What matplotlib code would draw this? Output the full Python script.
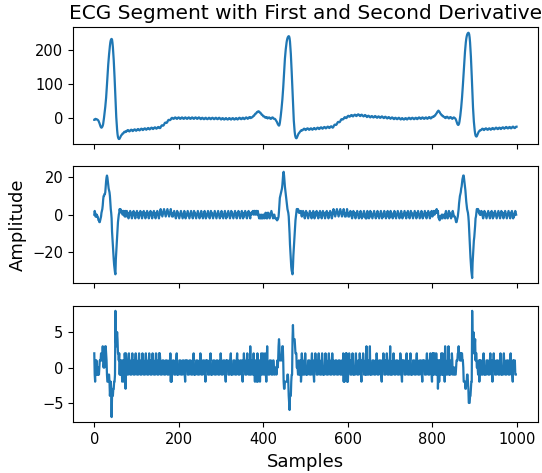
import numpy as np
import matplotlib
matplotlib.use("Agg")
import matplotlib.pyplot as plt

# ECG samples (ADC units)
beat1 = [-5, -5, -3, -2, -3, -3, -4, -4, -5, -6, -8, -11, -14, -18, -22, -25, -27, -28, -27,
         -25, -22, -17, -9, 1, 11, 22, 33, 45, 60, 78, 98, 119, 139, 157, 173, 187, 200, 212,
         222, 228, 231, 232,
         230, 221, 208, 191, 170, 146, 119, 90, 59, 27, 3, -17, -34, -47, -55, -59, -61, -61,
         -60, -57, -55, -52, -50, -49, -47, -45, -45, -44, -42, -40, -40, -41, -40, -38]

base1 = [-39, -38, -36, -35, -35, -36, -38, -39, -38, -37, -35, -34, -34, -35, -37, -38,
         -37, -36, -34, -33, -33, -34, -36, -37, -36, -35, -33, -32, -32, -33, -35, -36,
         -35, -34, -32, -31, -31, -32, -34, -35, -34, -33, -31, -30, -30, -31, -33, -34,
         -33, -32, -30, -29, -29, -30, -32, -33, -32, -31, -29, -28, -28, -29, -31, -32,
         -31, -30, -28, -27, -27, -28, -30, -31, -30, -29, -27, -26, -26, -27, -29, -29,
         -29, -27, -24, -22, -21, -21, -22, -22, -21, -19, -16, -14, -13, -13, -14, -14,
         -13, -11, -8, -6, -5, -5, -6, -6, -5, -4, -1, 0, 1, 0, -1, -2]

base2 = [-2, -1, 1, 2, 2, 1, -1, -2, -2, 0, 1, 2, 2, 1, -1, -2,
         -2, -1, 1, 2, 2, 1, -1, -2, -2, -1, 1, 2, 2, 0, -1, -2,
         -2, -1, 1, 2, 2, 1, -1, -2, -2, -1, 1, 2, 2, 1, -1, -2,
         -2, 0, 1, 2, 2, 1, -1, -2, -2, -1, 1, 2, 2, 1, -1, -2,
         -3, -2, 0, 1, 1, 0, -2, -3, -3, -2, 0, 1, 1, -1, -2, -3,
         -3, -2, 0, 1, 1, 0, -2, -3, -3, -1, 0, 1, 1, 0, -2, -3,
         -3, -2, 0, 1, 1, 0, -2, -3, -3, -2, 0, 1, 1, 0, -2, -3,
         -4, -3, -1, 0, 0, -1, -3, -4, -4, -3, -1, 0, 0, -2, -3, -4,
         -4, -3, -1, 0, 0, -1, -3, -4, -4, -2, -1, 0, 0, -1, -3, -4,
         -4, -3, -1, 0, 0, -1, -3, -4, -3, -2, 0, 1, 1, 0, -2, -3,
         -3, -2, 0, 1, 1, -1, -2, -3, -2, -1, 1, 2, 2, 1, -1, -2,
         -1, 0, 2, 3, 3, 2]

pwave1 = [0, 1, 2, 2, 3, 4, 6, 7, 7, 9, 11, 13, 13, 14, 16, 18, 18, 18, 20, 20, 19,
          17, 16, 16, 14, 12, 10, 10, 9, 7, 5, 5, 5, 4, 2, 1, 2, 3, 3, 1, -1]

pre2 = [0, 1, 2, 2, 1, -1, -2, -2, -1, 1, 2, 2, 1, -1, -2, -2, -2,
        -3, -5, -7, -9, -11, -14, -17, -19, -21]

beat2 = [-22, -20, -14, -5, 5, 16, 28, 41, 55, 71, 90, 112, 135, 156, 174, 189, 202,
         213, 222, 229, 234, 237, 239, 240,
         239, 234, 224, 208, 188, 164, 136, 106, 75, 43, 15, -7, -25, -39, -49, -55, -58, -59,
         -58, -55, -52, -49, -46, -44, -43, -41, -39, -38, -37, -35, -35, -36]

base3 = [-35, -34, -32, -31, -31, -32, -34, -35, -34, -32, -31, -30, -30, -31, -33, -34,
         -34, -33, -31, -30, -30, -31, -33, -34, -33, -32, -30, -29, -29, -31, -32, -33,
         -32, -31, -29, -28, -28, -29, -31, -32, -31, -30, -28, -27, -27, -28, -30, -31,
         -30, -28, -27, -26, -26, -27, -29, -30, -29, -28, -26, -25, -25, -26, -28, -29,
         -28, -27, -25, -24, -24, -25, -27, -28, -27, -25, -22, -20, -19, -19, -20, -20,
         -19, -17, -14, -12, -11, -11, -12, -12, -11, -9, -6, -4, -3, -3, -4, -4,
         -3, -2, 1, 2, 3, 2, 1, 0, 1, 2, 5, 6, 7, 6, 5, 4,
         5, 6, 8, 9, 9, 8, 6, 5, 6, 8, 9, 10, 10, 9, 7, 6,
         7, 8, 10, 11, 11, 10, 8, 7, 6, 7, 9, 10, 10, 8, 7, 6,
         5, 6, 8, 9, 9, 8, 6, 5, 3, 4, 6, 7, 7, 6, 4, 3,
         2, 4, 5, 6, 6, 5, 3, 2, 2, 3, 5, 6, 6, 5, 3, 2,
         1, 2, 4, 5, 5, 4, 2, 1, 1, 2, 4, 5, 5, 3, 2, 1,
         0, 1, 3, 4, 4, 3, 1, 0, -1, 0, 2, 3, 3, 2, 0, -1,
         -2, 0, 1, 2, 2, 1, -1, -2, -3, -2, 0, 1, 1, 0, -2, -3,
         -3, -2, 0, 1, 1, 0, -2, -3, -4, -3, -1, 0, 0, -2, -3, -4,
         -4, -3, -1, 0, 0, -1, -3, -4, -3, -2, 0, 1, 1, 0, -2, -3,
         -3, -1, 0, 1, 1, 0, -2, -3, -3, -2, 0, 1, 1, 0, -2, -3,
         -2, -1, 1, 2, 2, 1, -1, -2, -2, -1, 1, 2, 2, 0, -1, -2,
         -2, -1, 1, 2, 2, 1, -1, -2, -1, 0, 2, 3, 3, 2, 0, -1,
         0, 1, 3, 4]

pwave2 = [3, 4, 4, 6, 7, 7, 9, 11, 13, 14, 17, 19, 20, 22, 21, 19, 18, 15, 13, 12,
          10, 8, 8, 7, 5, 5, 4, 3, 2, 2]

pre3 = [0, 1, 3, 4, 4, 3, 1, 0, -1, 1, 2, 3, 3, 2, 0, -1, -2, -1, 1, 2, 2, 1,
        0, -1, -3, -6, -10, -14, -17, -19]

beat3 = [-20, -19, -16, -10, -2, 8, 19, 31, 45, 60, 77, 96, 116, 137, 158, 177, 194,
         209, 222, 232, 239, 244, 247, 249, 250,
         249, 245, 236, 222, 203, 180, 153, 123, 91, 57, 31, 9, -10, -24, -36, -45, -51,
         -53, -54,
         -53, -50, -47, -44, -41, -39, -38, -36, -36, -35]

base4 = [-35, -34, -32, -31, -31, -32, -34, -35, -34, -32, -31, -30, -30, -31, -33, -34,
         -34, -33, -31, -30, -30, -31, -33, -34, -33, -32, -30, -29, -29, -31, -32, -33,
         -32, -31, -29, -28, -28, -29, -31, -32, -32, -31, -29, -28, -28, -29, -31, -32,
         -31, -29, -28, -27, -27, -28, -30, -31, -30, -29, -27, -26, -26, -27, -29, -30,
         -30, -29, -27, -26, -26, -27, -29, -30, -29, -28, -26, -25, -25, -27, -28, -29,
         -29, -28, -26, -25, -25]

ecg = np.array(beat1 + base1 + base2 + pwave1 + pre2 + beat2 + base3
               + pwave2 + pre3 + beat3 + base4)
d1 = np.diff(ecg)
d2 = np.diff(d1)

fig, axes = plt.subplots(3, 1, sharex=True, figsize=(5.42, 4.73), dpi=100)
fig.subplots_adjust(left=0.135, right=0.992, top=0.942, bottom=0.107, hspace=0.19)

axes[0].plot(np.arange(len(ecg)), ecg, color="#1f77b4", lw=1.6)
axes[1].plot(np.arange(len(d1)), d1, color="#1f77b4", lw=1.6)
axes[2].plot(np.arange(len(d2)), d2, color="#1f77b4", lw=1.6)

axes[0].set_title("ECG Segment with First and Second Derivative", fontsize=14.5)
axes[1].set_ylabel("Amplitude", fontsize=13)
axes[2].set_xlabel("Samples", fontsize=13)
axes[2].set_xticks([0, 200, 400, 600, 800, 1000])
for ax in axes:
    ax.tick_params(labelsize=10.5)

fig.savefig("out.png", dpi=100)
